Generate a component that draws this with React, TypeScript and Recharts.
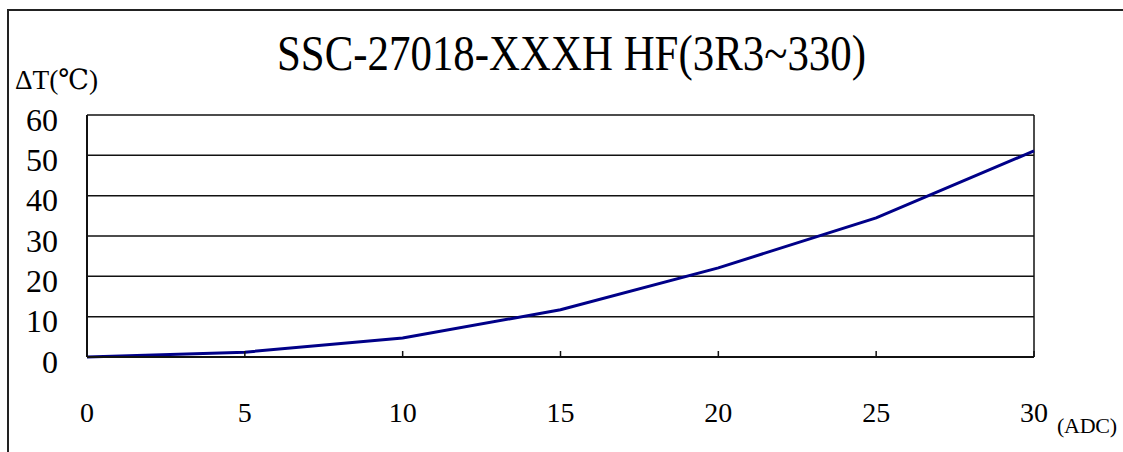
import React from "react";
import {
  LineChart,
  Line,
  XAxis,
  YAxis,
  CartesianGrid,
  ReferenceLine,
} from "recharts";

const currents = [0, 5, 10, 15, 20, 25, 30];
const deltaT = [0, 1.2, 4.7, 11.7, 22.1, 34.5, 51.1];
const xTicks = [0, 5, 10, 15, 20, 25, 30];
const yTicks = [0, 10, 20, 30, 40, 50, 60];

const data = currents.map((c, i) => ({ current: c, dt: deltaT[i] }));

const FONT = "'Liberation Serif', 'DejaVu Serif', serif";
const textStyle = { fontFamily: FONT, fontWeight: 400 };

const XTick = (props: any) => {
  const { x, y, payload } = props;
  return (
    <g>
      <line x1={x} y1={y} x2={x} y2={y - 6} stroke="#111" strokeWidth={1.5} />
      <text x={x} y={y + 65} textAnchor="middle" fontSize={28} style={textStyle} fill="#000">
        {payload.value}
      </text>
    </g>
  );
};

const YTick = (props: any) => {
  const { x, y, payload } = props;
  return (
    <text x={x} y={y + 15.5} textAnchor="end" fontSize={32} style={textStyle} fill="#000">
      {payload.value}
    </text>
  );
};

export default function App() {
  return (
    <div style={{ position: "absolute", left: 0, top: 0, width: 1123, height: 452, overflow: "hidden", background: "#fff" }}>
      <div
        style={{
          position: "absolute",
          left: 7,
          top: 9,
          right: -10,
          bottom: -10,
          borderLeft: "2px solid #222",
          borderTop: "2px solid #222",
        }}
      />
      <LineChart
        width={1123}
        height={452}
        data={data}
        margin={{ top: 115, right: 89, bottom: 35, left: 27 }}
        style={{ position: "absolute", left: 0, top: 0 }}
      >
        <CartesianGrid vertical={false} stroke="#111" strokeWidth={1.5} />
        <XAxis
          dataKey="current"
          type="number"
          domain={[0, 30]}
          ticks={xTicks}
          height={60}
          tickSize={0}
          tickMargin={0}
          tickLine={false}
          axisLine={{ stroke: "#111", strokeWidth: 2 }}
          tick={<XTick />}
          interval={0}
        />
        <YAxis
          type="number"
          domain={[0, 60]}
          ticks={yTicks}
          width={60}
          tickSize={0}
          tickMargin={29}
          tickLine={false}
          axisLine={{ stroke: "#111", strokeWidth: 2 }}
          tick={<YTick />}
          interval={0}
        />
        <ReferenceLine x={30} stroke="#111" strokeWidth={1.5} />
        <Line
          type="linear"
          dataKey="dt"
          stroke="#000088"
          strokeWidth={3}
          dot={false}
          isAnimationActive={false}
        />
      </LineChart>
      <svg width={1123} height={452} style={{ position: "absolute", left: 0, top: 0, pointerEvents: "none" }}>
        <text x={277} y={70} fontSize={50} style={textStyle} textLength={589} lengthAdjust="spacingAndGlyphs" fill="#000">
          SSC-27018-XXXH HF(3R3~330)
        </text>
        <text x={15} y={89} fontSize={28} style={textStyle} textLength={83} lengthAdjust="spacingAndGlyphs" fill="#000">
          ΔT(℃)
        </text>
        <text x={1057} y={433} fontSize={22} style={textStyle} textLength={60} lengthAdjust="spacing" fill="#000">
          (ADC)
        </text>
      </svg>
    </div>
  );
}
